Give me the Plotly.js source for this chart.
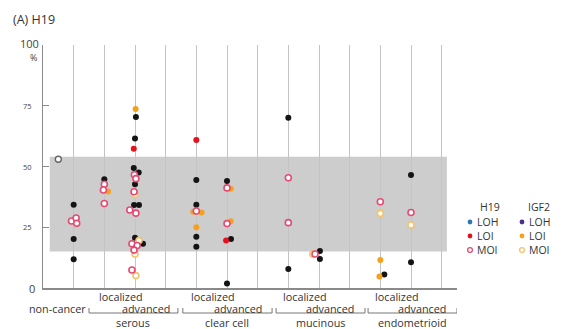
<!DOCTYPE html>
<html>
<head>
<meta charset="utf-8">
<script src="https://cdn.plot.ly/plotly-3.0.1.min.js"></script>
<style>html,body{margin:0;padding:0;background:#fff}#chart{width:567px;height:329px}</style>
</head>
<body>
<div id="chart"></div>
<script>
// ---- data ----
// column indices: 0 non-cancer, 1 serous localized, 2 serous advanced, 4 clear cell localized,
// 5 clear cell advanced, 7 mucinous localized, 8 mucinous advanced, 10 endometrioid localized, 11 endometrioid advanced
var groups = ["serous", "clear cell", "mucinous", "endometrioid"];
var groupStart = [1, 4, 7, 10];
var stageLabels = ["localized", "advanced"];
var yTicks = [0, 25, 50, 75, 100];
var normalBand = [15.0, 54.0];
var nonCancerRef = {col: 0, dx: -0.5, y: 53.0};

// LOH (drawn black)
var lohCol = [0,0,0, 1, 2,2,2,2,2,2,2,2,2, 4,4,4,4, 5,5,5, 7,7, 8,8, 10, 11,11];
var lohDx  = [0,0,0, 0, 0.03,0,-0.04,0.12,0,-0.03,0.13,0,0.26, 0,0,0,0, 0,0.13,0, 0,0, 0.03,0.03, 0.13, 0,0];
var lohY   = [34.3,20.2,11.8, 44.8, 70.4,61.5,49.4,47.5,42.7,34.2,34.2,20.7,18.2, 44.4,34.3,21.1,17.0, 44.0,20.2,1.9, 70.1,7.8, 15.2,11.9, 5.6, 46.5,10.6];

// H19 LOI
var h19LoiCol = [2, 4, 5];
var h19LoiDx  = [-0.04, 0, -0.03];
var h19LoiY   = [57.3, 60.9, 19.5];

// H19 MOI
var h19MoiCol = [0,0,0, 1,1,1, 2,2,2,2,2,2,2,2,2, 4, 5,5, 7,7, 8, 10, 11];
var h19MoiDx  = [-0.07,0.08,0.1, 0,-0.03,0, -0.02,0.03,-0.03,-0.17,0.03,-0.1,0.07,-0.03,-0.1, 0, 0,0, 0,0, -0.13, 0, 0];
var h19MoiY   = [27.6,28.8,26.6, 42.7,40.3,34.8, 46.6,45.0,39.6,32.1,30.8,18.2,17.5,15.6,7.4, 31.7, 41.2,26.5, 45.4,26.9, 14.0, 35.5, 31.1];

// IGF2 LOI
var igfLoiCol = [1, 2, 4,4,4, 5,5, 10,10];
var igfLoiDx  = [0.12, 0.02, -0.1,0.17,0, 0.12,0.12, 0,-0.03];
var igfLoiY   = [39.7, 73.7, 31.4,31.1,25.0, 40.8,27.5, 11.5,4.7];

// IGF2 MOI
var igfMoiCol = [2,2,2,2, 8, 10, 11];
var igfMoiDx  = [0.0,0.13,0.0,0.03, -0.2, 0, 0];
var igfMoiY   = [38.5,19.5,14.0,5.1, 14.0, 30.7, 25.9];

// ---- colours ----
var cBlack = "#141414", cRed = "#e3121f", cPink = "#e64a72", cOrange = "#f4a21c", cLight = "#f6c26a";
var cBlue = "#2a78b6", cPurple = "#4e2d8c";
var FONT = "Open Sans, sans-serif";

function xs(col, dx){ return col.map(function(c,i){ return c + dx[i]; }); }

var traces = [
  {x: xs(lohCol, lohDx), y: lohY, type: "scatter", mode: "markers", name: "LOH",
   marker: {color: cBlack, size: 6}},
  {x: xs(h19LoiCol, h19LoiDx), y: h19LoiY, type: "scatter", mode: "markers", name: "H19 LOI",
   marker: {color: cRed, size: 6}},
  {x: xs(igfLoiCol, igfLoiDx), y: igfLoiY, type: "scatter", mode: "markers", name: "IGF2 LOI",
   marker: {color: cOrange, size: 6}},
  {x: xs(igfMoiCol, igfMoiDx), y: igfMoiY, type: "scatter", mode: "markers", name: "IGF2 MOI",
   marker: {color: "#fff", size: 6, line: {color: cLight, width: 1.6}}},
  {x: xs(h19MoiCol, h19MoiDx), y: h19MoiY, type: "scatter", mode: "markers", name: "H19 MOI",
   marker: {color: "#fff", size: 6, line: {color: cPink, width: 1.6}}},
  {x: [nonCancerRef.col + nonCancerRef.dx], y: [nonCancerRef.y], type: "scatter", mode: "markers", name: "ref",
   marker: {color: "#fff", size: 6, line: {color: "#666", width: 1.4}}}
];

var L = 43, R = 110, T = 45, B = 41, W = 567, H = 329;
var pw = W - L - R, ph = H - T - B;
function px2paperX(p){ return (p - L) / pw; }
function px2paperY(p){ return (H - B - p) / ph; }

var shapes = [
  {type: "rect", xref: "x", yref: "y", x0: -0.78, x1: 12.17, y0: normalBand[0], y1: normalBand[1],
   fillcolor: "#cdcdcd", line: {width: 0}, layer: "below"}
];
var annotations = [];
function ann(o){ o.showarrow = false; o.borderpad = 0; annotations.push(o); }

// y tick labels (paper coords so the top label is not hidden at the range edge)
var tickSizes = {0: 11, 25: 7.5, 50: 7.5, 75: 7.5, 100: 11};
yTicks.forEach(function(v){
  ann({xref: "paper", yref: "paper", x: px2paperX(v === 100 ? 40 : (v === 0 ? 36 : 33)),
    y: v / 100 + (v === 100 ? 0.006 : 0),
    text: String(v), xanchor: "right", yanchor: "middle",
    font: {family: FONT, size: tickSizes[v], color: "#444"}});
});
ann({xref: "paper", yref: "paper", x: px2paperX(33), y: px2paperY(58), text: "%",
  xanchor: "center", yanchor: "middle", font: {family: FONT, size: 9, color: "#444"}});

// title
ann({xref: "paper", yref: "paper", x: px2paperX(12), y: px2paperY(19), text: "(A) H19",
  xanchor: "left", yanchor: "middle", font: {family: FONT, size: 12.5, color: "#333"}});

// x labels
var labFont = {family: FONT, size: 10.8, color: "#333"};
ann({xref: "x", yref: "paper", x: -0.52, y: px2paperY(308), text: "non-cancer",
  xanchor: "center", yanchor: "middle", font: labFont});
var groupSpans = [[0.5, 3.4], [3.56, 6.47], [6.6, 9.5], [9.6, 12.5]];
groups.forEach(function(g, i){
  var s = groupStart[i];
  ann({xref: "x", yref: "paper", x: s + 0.53, y: px2paperY(296), text: stageLabels[0],
    xanchor: "center", yanchor: "middle", font: labFont});
  ann({xref: "x", yref: "paper", x: s + 1.35, y: px2paperY(308.5), text: stageLabels[1],
    xanchor: "center", yanchor: "middle", font: labFont});
  ann({xref: "x", yref: "paper", x: (groupSpans[i][0] + groupSpans[i][1]) / 2, y: px2paperY(322), text: g,
    xanchor: "center", yanchor: "middle", font: labFont});
  var sp = groupSpans[i];
  shapes.push({type: "path", xref: "x", yref: "paper",
    path: "M" + sp[0] + "," + px2paperY(308) + " L" + sp[0] + "," + px2paperY(313) +
          " L" + sp[1] + "," + px2paperY(313) + " L" + sp[1] + "," + px2paperY(308),
    line: {color: "#777", width: 1}});
});

// legend
var legRows = [["LOH", cBlue, cPurple, false], ["LOI", cRed, cOrange, false], ["MOI", cPink, cLight, true]];
var legY = [222, 236, 250];
ann({xref: "paper", yref: "paper", x: px2paperX(490), y: px2paperY(207), text: "H19",
  xanchor: "center", yanchor: "middle", font: {family: FONT, size: 10.5, color: "#333"}});
ann({xref: "paper", yref: "paper", x: px2paperX(539), y: px2paperY(207), text: "IGF2",
  xanchor: "center", yanchor: "middle", font: {family: FONT, size: 10.5, color: "#333"}});
legRows.forEach(function(r, i){
  [[470, r[1]], [522, r[2]]].forEach(function(m){
    shapes.push({type: "circle", xref: "paper", yref: "paper", xsizemode: "pixel", ysizemode: "pixel",
      xanchor: px2paperX(m[0]), yanchor: px2paperY(legY[i]), x0: -2.4, x1: 2.4, y0: -2.4, y1: 2.4,
      fillcolor: r[3] ? "#fff" : m[1], line: {color: m[1], width: r[3] ? 1.3 : 0}});
    ann({xref: "paper", yref: "paper", x: px2paperX(m[0] + 6), y: px2paperY(legY[i]), text: r[0],
      xanchor: "left", yanchor: "middle", font: {family: FONT, size: 10.5, color: "#333"}});
  });
});

var layout = {
  width: W, height: H,
  margin: {l: L, r: R, t: T, b: B, pad: 0},
  paper_bgcolor: "#fff", plot_bgcolor: "#fff",
  showlegend: false,
  xaxis: {range: [-1, 12.5], tickmode: "array", tickvals: [0,1,2,3,4,5,6,7,8,9,10,11,12],
    showticklabels: false, ticks: "", showgrid: true, gridcolor: "#c4c4c4", gridwidth: 1,
    zeroline: false, showline: true, linecolor: "#8a8a8a", linewidth: 1.5, fixedrange: true},
  yaxis: {range: [0, 100], tickmode: "array", tickvals: yTicks, showticklabels: false,
    ticks: "inside", ticklen: 6, tickcolor: "#8a8a8a", tickwidth: 1.2, showgrid: false, zeroline: false,
    showline: true, linecolor: "#8a8a8a", linewidth: 1.5, fixedrange: true},
  shapes: shapes,
  annotations: annotations
};

Plotly.newPlot("chart", traces, layout, {staticPlot: true, displayModeBar: false});
</script>
</body>
</html>
